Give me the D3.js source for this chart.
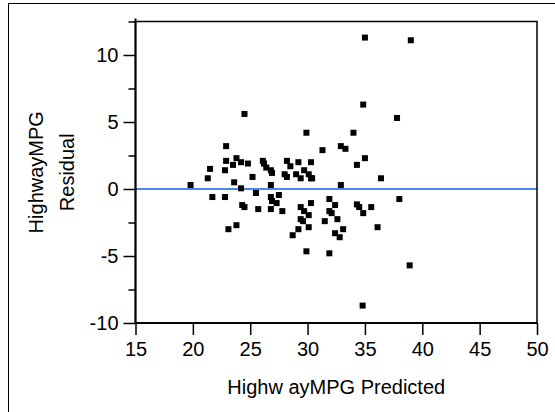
<!DOCTYPE html>
<html>
<head>
<meta charset="utf-8">
<script src="https://cdn.jsdelivr.net/npm/d3@7"></script>
<style>
  body { margin:0; background:#fff; }
  svg { display:block; font-family: Arial, "Liberation Sans", sans-serif; }
</style>
</head>
<body>
<div class="svg-container"><svg class="scatter"></svg></div>
<script>
// predicted highway mpg (x) and residual (y)
const predicted = [
  19.8, 21.5, 21.3, 21.7, 22.8, 22.9, 22.9, 22.8, 23.5, 23.8,
  24.2, 24.8, 23.6, 24.2, 24.5, 25.2, 25.5, 24.3, 24.5, 25.7,
  23.1, 23.8, 26.1, 26.2, 26.4, 26.8, 26.9, 26.8, 26.8, 26.9,
  27.3, 27.5, 26.8, 27.8, 28.2, 28.5, 29.2, 30.3, 28.0, 28.2,
  29.0, 29.4, 29.7, 30.1, 30.3, 30.4, 29.9, 29.4, 29.7, 30.3,
  30.1, 29.4, 29.6, 29.2, 30.1, 28.7, 29.9, 31.3, 32.9, 33.3,
  32.9, 31.9, 32.4, 31.9, 32.1, 31.5, 32.6, 32.4, 32.8, 33.1,
  31.9, 35.0, 39.0, 34.85, 37.8, 34.0, 35.0, 34.3, 36.4, 34.3,
  34.5, 34.85, 35.55, 38.0, 36.1, 38.9, 34.8
]
const residuals = [
  0.3, 1.5, 0.8, -0.6, -0.6, 3.2, 2.1, 1.4, 1.8, 2.3,
  2.0, 1.9, 0.5, 0.05, 5.6, 0.9, -0.3, -1.2, -1.35, -1.5,
  -3.0, -2.7, 2.1, 1.9, 1.6, 1.4, 1.2, 0.3, -0.6, -0.9,
  -1.05, -0.45, -1.5, -1.65, 2.1, 1.7, 2.0, 2.0, 1.1, 0.9,
  1.1, 0.8, 1.4, 1.1, 0.8, 0.8, 4.2, -1.35, -1.65, -1.05,
  -1.95, -2.25, -2.4, -3.0, -2.85, -3.45, -4.65, 2.9, 3.2, 3.0,
  0.3, -0.75, -1.2, -1.65, -1.8, -2.4, -2.25, -3.3, -3.6, -3.0,
  -4.8, 11.3, 11.1, 6.3, 5.3, 4.2, 2.3, 1.8, 0.8, -1.15,
  -1.35, -1.8, -1.35, -0.75, -2.85, -5.7, -8.7
]

const xTickValues = [15, 20, 25, 30, 35, 40, 45, 50]
const yTickValues = [-10, -5, 0, 5, 10]
const yMinorTickValues = [-7.5, -2.5, 2.5, 7.5, 12.5]
const xDomain = [15, 50]
const yDomain = [-10, 12.5]
const fitLineValue = 0

const xTitle = 'Highw ayMPG Predicted'
const yTitleLines = ['HighwayMPG', 'Residual']

const points = predicted.map((p, i) => ({ predicted: p, residual: residuals[i] }))

const WIDTH = 555
const HEIGHT = 412

// PLOT FRAME EDGES
const PLOT_LEFT = 135.5
const PLOT_RIGHT = 537
const PLOT_TOP = 21.5
const PLOT_BOTTOM = 323

const FONT_SIZE = 20
const MARKER = 6

// plain hyphen for negatives, like the original
const tickText = d => String(d)

const chartSvg = d3.select('svg.scatter')
  .attr('width', WIDTH)
  .attr('height', HEIGHT)

// outer report frame, runs off the right and bottom of the picture
chartSvg.append('rect')
  .attr('x', 8.5)
  .attr('y', 3.5)
  .attr('width', 700)
  .attr('height', 600)
  .style('fill', 'none')
  .style('stroke', '#000')
  .style('stroke-width', 1)

const xScale = d3.scaleLinear()
  .domain(xDomain)
  .range([PLOT_LEFT, PLOT_RIGHT])

const yScale = d3.scaleLinear()
  .domain(yDomain)
  .range([PLOT_BOTTOM, PLOT_TOP])

// Y AXIS: major ticks with labels, minor ticks without
const yAxisFunction = d3.axisLeft(yScale)
  .tickValues(yTickValues)
  .tickSize(12)
  .tickPadding(5)
  .tickFormat(tickText)

const yMinorAxisFunction = d3.axisLeft(yScale)
  .tickValues(yMinorTickValues)
  .tickSize(7)
  .tickFormat('')

const xAxisFunction = d3.axisBottom(xScale)
  .tickValues(xTickValues)
  .tickSize(12)
  .tickPadding(7)
  .tickFormat(tickText)

const styleAxis = g => {
  g.select('.domain').remove()
  g.attr('font-family', null).attr('font-size', FONT_SIZE)
  g.selectAll('.tick line').style('stroke', '#000').style('stroke-width', 1.5)
  g.selectAll('.tick text').style('fill', '#000')
}

chartSvg.append('g')
  .attr('class', 'y-axis')
  .attr('transform', 'translate(' + PLOT_LEFT + ',0)')
  .call(yAxisFunction)
  .call(styleAxis)

chartSvg.append('g')
  .attr('class', 'y-minor-axis')
  .attr('transform', 'translate(' + PLOT_LEFT + ',0)')
  .call(yMinorAxisFunction)
  .call(styleAxis)

chartSvg.append('g')
  .attr('class', 'x-axis')
  .attr('transform', 'translate(0,' + PLOT_BOTTOM + ')')
  .call(xAxisFunction)
  .call(styleAxis)

// zero residual line
chartSvg.append('line')
  .attr('x1', xScale(xDomain[0]))
  .attr('x2', xScale(xDomain[1]))
  .attr('y1', yScale(fitLineValue))
  .attr('y2', yScale(fitLineValue))
  .style('stroke', '#4a88f0')
  .style('stroke-width', 2)

chartSvg.selectAll('rect.residual-point')
  .data(points)
  .enter()
  .append('rect')
  .attr('class', 'residual-point')
  .attr('x', d => xScale(d.predicted) - MARKER / 2)
  .attr('y', d => yScale(d.residual) - MARKER / 2)
  .attr('width', MARKER)
  .attr('height', MARKER)
  .style('fill', '#000')

// plot frame drawn last so it sits over the ends of the zero line
chartSvg.append('rect')
  .attr('x', PLOT_LEFT)
  .attr('y', PLOT_TOP)
  .attr('width', PLOT_RIGHT - PLOT_LEFT)
  .attr('height', PLOT_BOTTOM - PLOT_TOP)
  .style('fill', 'none')
  .style('stroke', '#000')
  .style('stroke-width', 1.5)

// axis lines a bit heavier than the frame
chartSvg.append('line')
  .attr('x1', PLOT_LEFT).attr('x2', PLOT_LEFT)
  .attr('y1', PLOT_TOP - 3).attr('y2', PLOT_BOTTOM)
  .style('stroke', '#000')
  .style('stroke-width', 2)

chartSvg.append('line')
  .attr('x1', PLOT_LEFT).attr('x2', PLOT_RIGHT)
  .attr('y1', PLOT_BOTTOM).attr('y2', PLOT_BOTTOM)
  .style('stroke', '#000')
  .style('stroke-width', 2)

// TITLES
chartSvg.append('text')
  .attr('x', (PLOT_LEFT + PLOT_RIGHT) / 2)
  .attr('y', 394)
  .attr('text-anchor', 'middle')
  .attr('font-size', FONT_SIZE)
  .style('fill', '#000')
  .text(xTitle)

const yTitleCenter = (PLOT_TOP + PLOT_BOTTOM) / 2
chartSvg.selectAll('text.y-title')
  .data(yTitleLines)
  .enter()
  .append('text')
  .attr('class', 'y-title')
  .attr('text-anchor', 'middle')
  .attr('font-size', FONT_SIZE)
  .attr('transform', (d, i) => 'translate(' + (43 + i * 31) + ',' + yTitleCenter + ') rotate(-90)')
  .style('fill', '#000')
  .text(d => d)
</script>
</body>
</html>
